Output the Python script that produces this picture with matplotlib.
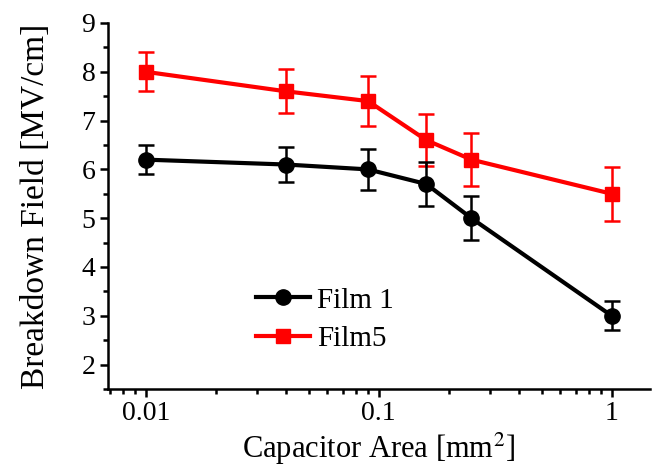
import numpy as np
import matplotlib
matplotlib.use("Agg")
import matplotlib.pyplot as plt
from matplotlib.lines import Line2D
from matplotlib.ticker import LogLocator, FixedLocator, MultipleLocator, FixedFormatter

# data
area = [0.01, 0.04, 0.09, 0.16, 0.25, 1.0]
film1 = [6.2, 6.1, 6.0, 5.7, 5.0, 3.0]
film1_err = [0.3, 0.36, 0.42, 0.46, 0.45, 0.3]
film5 = [8.0, 7.6, 7.4, 6.6, 6.2, 5.5]
film5_err = [0.4, 0.45, 0.52, 0.53, 0.55, 0.55]

x_ticks = [0.01, 0.1, 1]
x_labels = ["0.01", "0.1", "1"]

plt.rcParams['font.family'] = ['Liberation Serif', 'DejaVu Serif']
plt.rcParams['mathtext.fontset'] = 'stix'

fig = plt.figure(figsize=(6.52, 4.68), dpi=100)
ax = fig.add_axes([108 / 652, 1 - 389 / 468, (650 - 108) / 652, (389 - 23) / 468])

ax.errorbar(area, film1, yerr=film1_err, color='black', lw=3, marker='o', ms=11,
            capsize=6, elinewidth=1.8, capthick=1.8, zorder=3)
ax.errorbar(area, film5, yerr=film5_err, color='#ff0000', lw=3, marker='s', ms=10,
            capsize=6, elinewidth=1.8, capthick=1.8, zorder=2)

ax.set_xscale('log')
ax.set_xlim(0.00689, 1.46)
ax.set_ylim(1.5, 9)

ax.xaxis.set_major_locator(FixedLocator(x_ticks))
ax.xaxis.set_major_formatter(FixedFormatter(x_labels))
ax.xaxis.set_minor_locator(LogLocator(base=10, subs=np.arange(2, 10), numticks=20))
ax.xaxis.set_minor_formatter(FixedFormatter([]))
ax.yaxis.set_major_locator(MultipleLocator(1))
ax.yaxis.set_minor_locator(MultipleLocator(0.5))

for side in ['top', 'right']:
    ax.spines[side].set_visible(False)
for side in ['left', 'bottom']:
    ax.spines[side].set_linewidth(1.8)

ax.tick_params(which='major', direction='out', length=6, width=1.8, labelsize=20, pad=3)
ax.tick_params(which='minor', direction='out', length=3.5, width=1.8)

ax.set_xlabel('Capacitor Area [mm$^2$]', fontsize=22, labelpad=3)
ax.set_ylabel('Breakdown Field [MV/cm]', fontsize=24, labelpad=22)

handles = [
    Line2D([], [], color='black', lw=3, marker='o', ms=11),
    Line2D([], [], color='#ff0000', lw=3, marker='s', ms=10),
]
ax.legend(handles, ['Film 1', 'Film5'], loc='center left', bbox_to_anchor=(0.225, 0.19),
          frameon=False, fontsize=21, handlelength=1.85, handletextpad=0.25,
          labelspacing=0.4)

fig.savefig('out.png', dpi=100)
